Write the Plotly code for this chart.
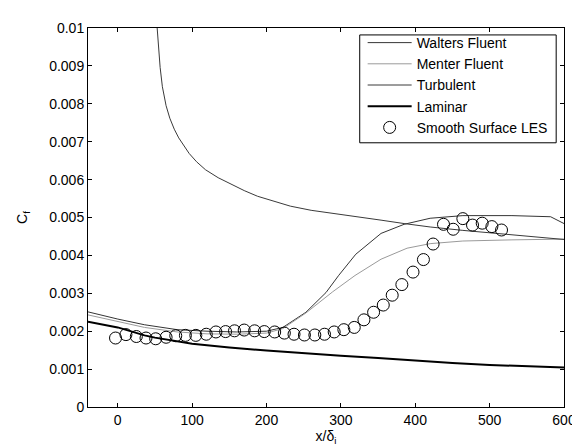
import plotly.graph_objects as go

# ---------------- data ----------------
walters_x = [-40, 0, 36, 80, 120, 160, 200, 222, 253, 280, 297, 320, 354, 385, 420, 464, 530, 582, 600]
walters_y = [0.00251, 0.00232, 0.00217, 0.00204, 0.00200, 0.00198, 0.00200, 0.00210, 0.00250, 0.00302, 0.00347, 0.00403, 0.00458, 0.00482, 0.00498, 0.00505, 0.00505, 0.00502, 0.00484]

menter_x = [-40, 0, 36, 80, 120, 160, 200, 222, 253, 289, 319, 354, 389, 420, 464, 530, 600]
menter_y = [0.00243, 0.00225, 0.00210, 0.00198, 0.00193, 0.00192, 0.00195, 0.00207, 0.00248, 0.00304, 0.00347, 0.00390, 0.00419, 0.00431, 0.00438, 0.00441, 0.00443]

turb_x = [53, 55, 57, 60, 65, 70, 76, 82, 89, 96, 106, 118, 135, 153, 170, 188, 210, 232, 260, 297, 330, 354, 385, 420, 464, 530, 600]
turb_y = [0.0100, 0.00945, 0.00896, 0.00845, 0.00795, 0.00762, 0.00733, 0.00710, 0.00688, 0.00669, 0.00647, 0.00626, 0.00605, 0.00587, 0.00571, 0.00556, 0.00543, 0.00530, 0.00519, 0.00508, 0.00499, 0.00493, 0.00484, 0.00475, 0.00466, 0.00455, 0.00442]

lam_x = [-40, 0, 36, 50, 100, 150, 200, 250, 300, 350, 400, 450, 500, 550, 600]
lam_y = [0.00225, 0.00210, 0.00189, 0.00183, 0.00167, 0.00157, 0.00149, 0.00141, 0.00135, 0.00129, 0.00122, 0.00116, 0.00111, 0.00107, 0.00104]

les_x = [-3, 11, 25, 38, 51, 65, 78, 91, 105, 119, 132, 145, 157, 170, 184, 197, 211, 224, 237,
         251, 265, 278, 291, 304, 318, 331, 344, 357, 369, 382, 397, 411, 424, 438, 451, 464, 477, 490, 503, 516]
les_y = [0.00182, 0.00191, 0.00186, 0.00182, 0.00180, 0.00184, 0.00188, 0.00189, 0.00189, 0.00192,
         0.00198, 0.00199, 0.00201, 0.00203, 0.00201, 0.00199, 0.00198, 0.00195, 0.00192,
         0.00190, 0.00190, 0.00192, 0.00198, 0.00204, 0.00210, 0.00230, 0.00250, 0.00269, 0.00295,
         0.00323, 0.00356, 0.00389, 0.00430, 0.00482, 0.00469, 0.00497, 0.00480, 0.00485, 0.00476, 0.00467]

x_ticks = [0, 100, 200, 300, 400, 500, 600]
y_ticks = [0, 0.001, 0.002, 0.003, 0.004, 0.005, 0.006, 0.007, 0.008, 0.009, 0.01]
y_tick_text = ["0", "0.001", "0.002", "0.003", "0.004", "0.005", "0.006", "0.007", "0.008", "0.009", "0.01"]

FONT = "Liberation Sans, Arial, sans-serif"

W, H = 580, 446
ML, MR, MT, MB = 80, 13, 20, 43
PW, PH = W - ML - MR, H - MT - MB


def px_to_paper_x(px):
    return (px - ML) / PW


def px_to_paper_y(py):
    return (H - MB - py) / PH


fig = go.Figure()
fig.add_trace(go.Scatter(x=walters_x, y=walters_y, mode="lines", name="Walters Fluent",
                         line=dict(color="#000000", width=0.8)))
fig.add_trace(go.Scatter(x=menter_x, y=menter_y, mode="lines", name="Menter Fluent",
                         line=dict(color="#9a9a9a", width=1)))
fig.add_trace(go.Scatter(x=turb_x, y=turb_y, mode="lines", name="Turbulent",
                         line=dict(color="#3a3a3a", width=1)))
fig.add_trace(go.Scatter(x=lam_x, y=lam_y, mode="lines", name="Laminar",
                         line=dict(color="#000000", width=2)))
fig.add_trace(go.Scatter(x=les_x, y=les_y, mode="markers", name="Smooth Surface LES",
                         marker=dict(symbol="circle-open", size=12, color="#000000",
                                     line=dict(width=1, color="#000000"))))

axis_common = dict(showline=True, linecolor="black", linewidth=1, mirror="ticks",
                   ticks="inside", ticklen=4, tickcolor="black", showgrid=False,
                   zeroline=False, tickfont=dict(family=FONT, size=14, color="black"))

fig.update_xaxes(range=[-40, 600], tickvals=x_ticks,
                 title=dict(text="x/δ<sub>i</sub>", font=dict(family=FONT, size=14, color="black"), standoff=4),
                 **axis_common)
fig.update_yaxes(range=[0, 0.01], tickvals=y_ticks, ticktext=y_tick_text,
                 title=dict(text="C<sub>f</sub>", font=dict(family=FONT, size=14, color="black"), standoff=18),
                 **axis_common)

# legend frame (drawn as a box so its padding matches the reference)
fig.add_shape(type="rect", xref="paper", yref="paper",
              x0=px_to_paper_x(358), x1=px_to_paper_x(559),
              y0=px_to_paper_y(136), y1=px_to_paper_y(27),
              line=dict(color="black", width=1), fillcolor="white", layer="above")

fig.update_layout(
    width=W, height=H,
    margin=dict(l=ML, r=MR, t=MT, b=MB),
    paper_bgcolor="white", plot_bgcolor="white",
    font=dict(family=FONT, size=14, color="black"),
    showlegend=True,
    legend=dict(x=px_to_paper_x(361), y=px_to_paper_y(19), xanchor="left", yanchor="top",
                bgcolor="rgba(0,0,0,0)", borderwidth=0,
                font=dict(family=FONT, size=14, color="black"),
                itemwidth=44, tracegroupgap=0),
)

fig.write_html("out.html")
